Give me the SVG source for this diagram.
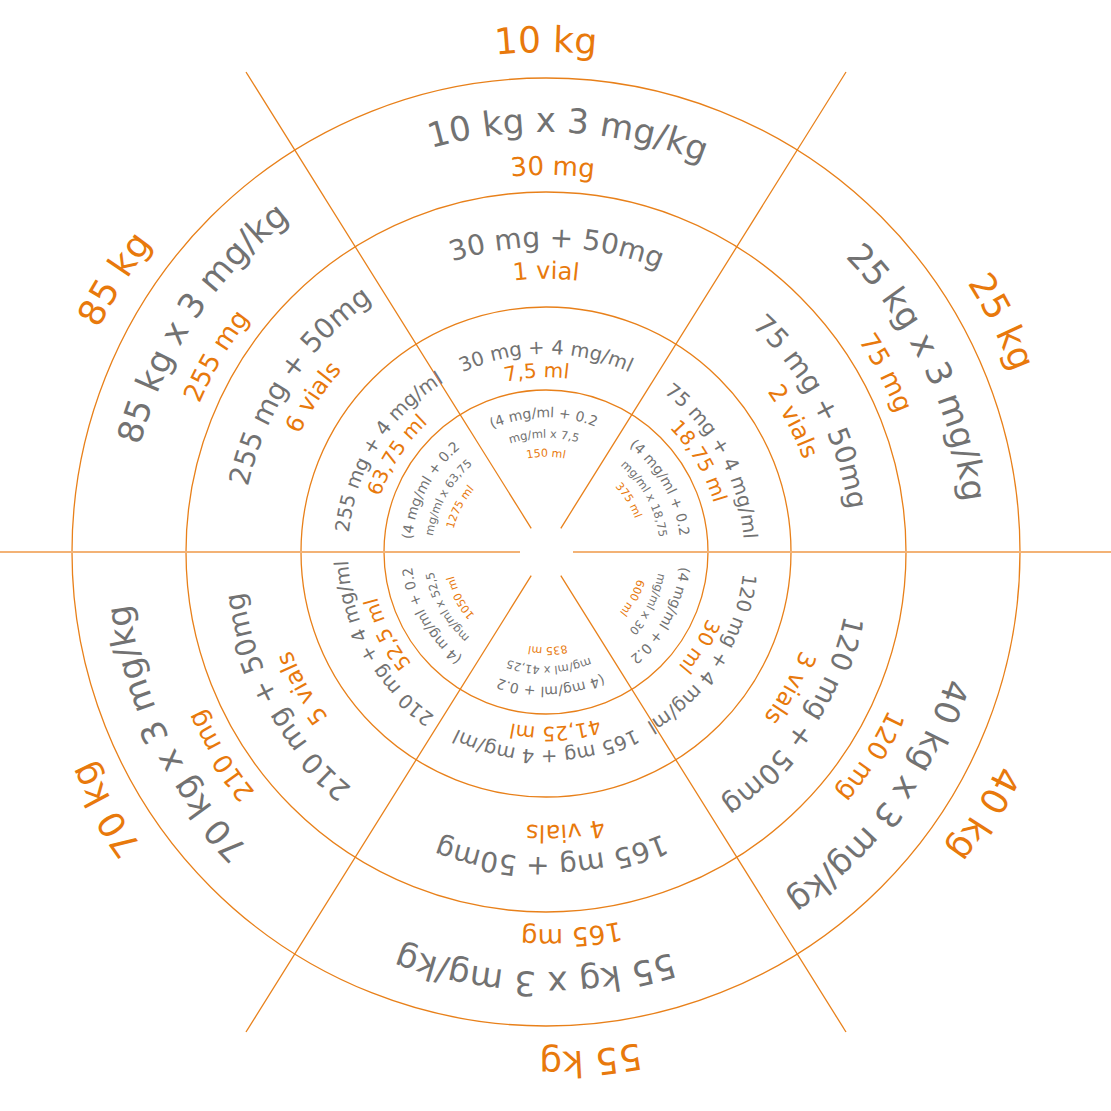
<svg xmlns="http://www.w3.org/2000/svg" xmlns:xlink="http://www.w3.org/1999/xlink" width="1111" height="1111" viewBox="0 0 1111 1111">
<style>
text{font-family:"DejaVu Sans","Liberation Sans",sans-serif;text-anchor:middle}
.g{fill:#727272}.o{fill:#e8790c}
.kg{font-size:36px}.l1{font-size:34px}.mg{font-size:26px}.l3{font-size:28px}.vi{font-size:24px}
.l5{font-size:19.5px}.ml{font-size:20px}.i1{font-size:14px}.i2{font-size:11.5px}.i3{font-size:11px}
.ring{fill:none;stroke:#e8801a;stroke-width:1.3}
.div{stroke:#e8801a;stroke-width:1.3}
.hor{stroke:#f3b275;stroke-width:2.2}
</style>
<defs>
<path id="r500" d="M-492.4,-86.8 A500,500 0 0 1 492.4,-86.8"/>
<path id="r420" d="M-413.6,-72.9 A420,420 0 0 1 413.6,-72.9"/>
<path id="r377" d="M-371.3,-65.4 A377,377 0 0 1 371.3,-65.4"/>
<path id="r305" d="M-300.4,-52.9 A305,305 0 0 1 300.4,-52.9"/>
<path id="r273" d="M-268.9,-47.4 A273,273 0 0 1 268.9,-47.4"/>
<path id="r198" d="M-195,-34.4 A198,198 0 0 1 195,-34.4"/>
<path id="r175" d="M-172.3,-30.4 A175,175 0 0 1 172.3,-30.4"/>
<path id="r135" d="M-132.9,-23.4 A135,135 0 0 1 132.9,-23.4"/>
<path id="r114" d="M-112.3,-19.8 A114,114 0 0 1 112.3,-19.8"/>
<path id="r95" d="M-93.6,-16.5 A95,95 0 0 1 93.6,-16.5"/>
</defs>
<rect width="1111" height="1111" fill="#fff"/>
<g id="connectors">
<circle class="ring" cx="546" cy="552" r="474"/>
<circle class="ring" cx="546" cy="552" r="360"/>
<circle class="ring" cx="546" cy="552" r="245"/>
<circle class="ring" cx="546" cy="552" r="162"/>
<line class="hor" x1="0" y1="552" x2="520" y2="552"/>
<line class="hor" x1="573" y1="552" x2="1111" y2="552"/>
<line class="div" x1="246" y1="72" x2="531.2" y2="528.3"/>
<line class="div" x1="846" y1="72" x2="560.8" y2="528.3"/>
<line class="div" x1="846" y1="1032" x2="560.8" y2="575.7"/>
<line class="div" x1="246" y1="1032" x2="531.2" y2="575.7"/>
</g>
<g id="sector-10kg" transform="translate(546,552)">
<text class="o kg" transform="rotate(0)"><textPath href="#r500" startOffset="50%">10 kg</textPath></text>
<text class="g l1" transform="rotate(3)"><textPath href="#r420" startOffset="50%">10 kg x 3 mg/kg</textPath></text>
<text class="o mg" transform="rotate(1)"><textPath href="#r377" startOffset="50%">30 mg</textPath></text>
<text class="g l3" transform="rotate(2)"><textPath href="#r305" startOffset="50%">30 mg + 50mg</textPath></text>
<text class="o vi" transform="rotate(0)"><textPath href="#r273" startOffset="50%">1 vial</textPath></text>
<text class="g l5" transform="rotate(0)"><textPath href="#r198" startOffset="50%">30 mg + 4 mg/ml</textPath></text>
<text class="o ml" transform="rotate(-3)"><textPath href="#r175" startOffset="50%">7,5 ml</textPath></text>
<text class="g i1" transform="rotate(-1)"><textPath href="#r135" startOffset="50%">(4 mg/ml + 0.2</textPath></text>
<text class="g i2" transform="rotate(-1)"><textPath href="#r114" startOffset="50%">mg/ml x 7,5</textPath></text>
<text class="o i3" transform="rotate(0)"><textPath href="#r95" startOffset="50%">150 ml</textPath></text>
</g>
<g id="sector-25kg" transform="translate(546,552)">
<text class="o kg" transform="rotate(63.2)"><textPath href="#r500" startOffset="50%">25 kg</textPath></text>
<text class="g l1" transform="rotate(64.3)"><textPath href="#r420" startOffset="50%">25 kg x 3 mg/kg</textPath></text>
<text class="o mg" transform="rotate(62.2)"><textPath href="#r377" startOffset="50%">75 mg</textPath></text>
<text class="g l3" transform="rotate(62.2)"><textPath href="#r305" startOffset="50%">75 mg + 50mg</textPath></text>
<text class="o vi" transform="rotate(62.2)"><textPath href="#r273" startOffset="50%">2 vials</textPath></text>
<text class="g l5" transform="rotate(61.4)"><textPath href="#r198" startOffset="50%">75 mg + 4 mg/ml</textPath></text>
<text class="o ml" transform="rotate(59.3)"><textPath href="#r175" startOffset="50%">18,75 ml</textPath></text>
<text class="g i1" transform="rotate(60.7)"><textPath href="#r135" startOffset="50%">(4 mg/ml + 0.2</textPath></text>
<text class="g i2" transform="rotate(61.6)"><textPath href="#r114" startOffset="50%">mg/ml x 18,75</textPath></text>
<text class="o i3" transform="rotate(58)"><textPath href="#r95" startOffset="50%">375 ml</textPath></text>
</g>
<g id="sector-40kg" transform="translate(546,552)">
<text class="o kg" transform="rotate(120.9)"><textPath href="#r500" startOffset="50%">40 kg</textPath></text>
<text class="g l1" transform="rotate(126.3)"><textPath href="#r420" startOffset="50%">40 kg x 3 mg/kg</textPath></text>
<text class="o mg" transform="rotate(122.2)"><textPath href="#r377" startOffset="50%">120 mg</textPath></text>
<text class="g l3" transform="rotate(123.5)"><textPath href="#r305" startOffset="50%">120 mg + 50mg</textPath></text>
<text class="o vi" transform="rotate(119.1)"><textPath href="#r273" startOffset="50%">3 vials</textPath></text>
<text class="g l5" transform="rotate(122.9)"><textPath href="#r198" startOffset="50%">120 mg + 4 mg/ml</textPath></text>
<text class="o ml" transform="rotate(121.6)"><textPath href="#r175" startOffset="50%">30 ml</textPath></text>
<text class="g i1" transform="rotate(118.9)"><textPath href="#r135" startOffset="50%">(4 mg/ml + 0.2</textPath></text>
<text class="g i2" transform="rotate(117)"><textPath href="#r114" startOffset="50%">mg/ml x 30</textPath></text>
<text class="o i3" transform="rotate(118)"><textPath href="#r95" startOffset="50%">600 ml</textPath></text>
</g>
<g id="sector-55kg" transform="translate(546,552)">
<text class="o kg" transform="rotate(175)"><textPath href="#r500" startOffset="50%">55 kg</textPath></text>
<text class="g l1" transform="rotate(181.5)"><textPath href="#r420" startOffset="50%">55 kg x 3 mg/kg</textPath></text>
<text class="o mg" transform="rotate(176.2)"><textPath href="#r377" startOffset="50%">165 mg</textPath></text>
<text class="g l3" transform="rotate(179)"><textPath href="#r305" startOffset="50%">165 mg + 50mg</textPath></text>
<text class="o vi" transform="rotate(176)"><textPath href="#r273" startOffset="50%">4 vials</textPath></text>
<text class="g l5" transform="rotate(180)"><textPath href="#r198" startOffset="50%">165 mg + 4 mg/ml</textPath></text>
<text class="o ml" transform="rotate(177)"><textPath href="#r175" startOffset="50%">41,25 ml</textPath></text>
<text class="g i1" transform="rotate(178)"><textPath href="#r135" startOffset="50%">(4 mg/ml + 0.2</textPath></text>
<text class="g i2" transform="rotate(178.5)"><textPath href="#r114" startOffset="50%">mg/ml x 41,25</textPath></text>
<text class="o i3" transform="rotate(179)"><textPath href="#r95" startOffset="50%">835 ml</textPath></text>
</g>
<g id="sector-70kg" transform="translate(546,552)">
<text class="o kg" transform="rotate(239.7)"><textPath href="#r500" startOffset="50%">70 kg</textPath></text>
<text class="g l1" transform="rotate(244)"><textPath href="#r420" startOffset="50%">70 kg x 3 mg/kg</textPath></text>
<text class="o mg" transform="rotate(238)"><textPath href="#r377" startOffset="50%">210 mg</textPath></text>
<text class="g l3" transform="rotate(241)"><textPath href="#r305" startOffset="50%">210 mg + 50mg</textPath></text>
<text class="o vi" transform="rotate(240.9)"><textPath href="#r273" startOffset="50%">5 vials</textPath></text>
<text class="g l5" transform="rotate(240.9)"><textPath href="#r198" startOffset="50%">210 mg + 4 mg/ml</textPath></text>
<text class="o ml" transform="rotate(242.7)"><textPath href="#r175" startOffset="50%">52,5 ml</textPath></text>
<text class="g i1" transform="rotate(241)"><textPath href="#r135" startOffset="50%">(4 mg/ml + 0.2</textPath></text>
<text class="g i2" transform="rotate(241)"><textPath href="#r114" startOffset="50%">mg/ml x 52,5</textPath></text>
<text class="o i3" transform="rotate(242)"><textPath href="#r95" startOffset="50%">1050 ml</textPath></text>
</g>
<g id="sector-85kg" transform="translate(546,552)">
<text class="o kg" transform="rotate(302.3)"><textPath href="#r500" startOffset="50%">85 kg</textPath></text>
<text class="g l1" transform="rotate(303.6)"><textPath href="#r420" startOffset="50%">85 kg x 3 mg/kg</textPath></text>
<text class="o mg" transform="rotate(300.7)"><textPath href="#r377" startOffset="50%">255 mg</textPath></text>
<text class="g l3" transform="rotate(303.9)"><textPath href="#r305" startOffset="50%">255 mg + 50mg</textPath></text>
<text class="o vi" transform="rotate(303.6)"><textPath href="#r273" startOffset="50%">6 vials</textPath></text>
<text class="g l5" transform="rotate(302.3)"><textPath href="#r198" startOffset="50%">255 mg + 4 mg/ml</textPath></text>
<text class="o ml" transform="rotate(303)"><textPath href="#r175" startOffset="50%">63,75 ml</textPath></text>
<text class="g i1" transform="rotate(298)"><textPath href="#r135" startOffset="50%">(4 mg/ml + 0.2</textPath></text>
<text class="g i2" transform="rotate(299)"><textPath href="#r114" startOffset="50%">mg/ml x 63,75</textPath></text>
<text class="o i3" transform="rotate(297.6)"><textPath href="#r95" startOffset="50%">1275 ml</textPath></text>
</g>
</svg>
